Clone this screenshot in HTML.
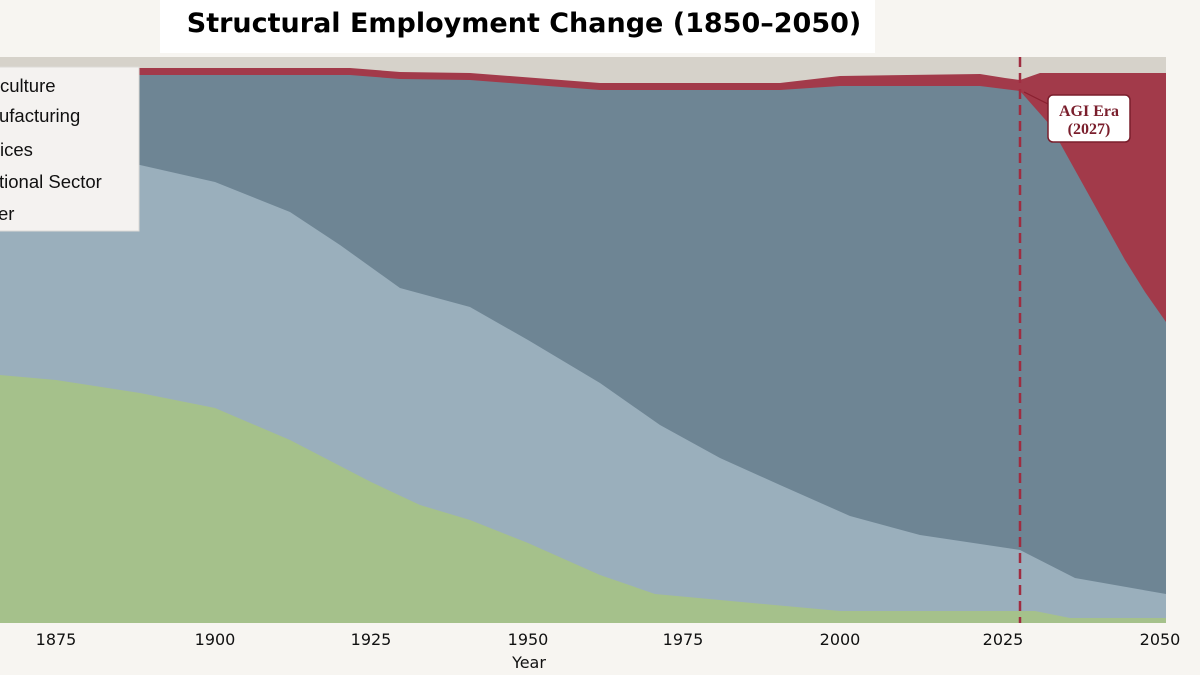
<!DOCTYPE html>
<html><head><meta charset="utf-8"><style>
html,body{margin:0;padding:0;background:#f7f5f1;}
svg{display:block;font-family:"DejaVu Sans","Liberation Sans",sans-serif;}
</style></head><body>
<svg width="1200" height="675" viewBox="0 0 1200 675" xmlns="http://www.w3.org/2000/svg">
<rect width="1200" height="675" fill="#f7f5f1"/>
<rect x="0" y="57" width="1166" height="566" fill="#d6d2ca"/>
<polygon fill="#a23a4a" points="0,68 350,68 400,72 470,73 600,83 780,83 840,76 980,74 1005,78 1020,80 1040,73 1166,73 1166,623 0,623"/>
<polygon fill="#6e8594" points="0,75 350,75 400,79 470,80 600,90 780,90 840,86 980,86 1020,91 1050,125 1075,170 1100,215 1125,260 1145,292 1166,322 1166,623 0,623"/>
<polygon fill="#9aafbc" points="0,140 140,165 215,182 290,212 340,245 400,288 470,307 528,340 600,383 660,425 720,458 780,485 850,516 920,535 1020,550 1075,578 1166,594 1166,623 0,623"/>
<polygon fill="#a5c18b" points="0,375 56,380 140,393 215,408 290,440 371,482 420,505 470,520 528,543 600,575 655,594 720,600 840,611 1000,611 1035,611 1070,618 1166,618 1166,623 0,623"/>
<line x1="1020" y1="57" x2="1020" y2="623" stroke="#a02c40" stroke-width="2.5" stroke-dasharray="10,6"/>
<line x1="1024" y1="92" x2="1050" y2="105" stroke="#8a2030" stroke-width="1.2"/>
<rect x="1048" y="95" width="82" height="47" rx="5" fill="#ffffff" stroke="#7a1e2c" stroke-width="1.5"/>
<text x="1089" y="116" font-family="Liberation Serif,serif" font-size="16" font-weight="bold" fill="#7a1e2c" text-anchor="middle">AGI Era</text>
<text x="1089" y="134" font-family="Liberation Serif,serif" font-size="16" font-weight="bold" fill="#7a1e2c" text-anchor="middle">(2027)</text>
<rect x="-2" y="67" width="141" height="164" fill="#f4f2f0" stroke="#dcdad6"/>
<g font-family="Liberation Sans,sans-serif" font-size="18.5" fill="#111">
<text x="0" y="92">culture</text>
<text x="-1" y="122">ufacturing</text>
<text x="0" y="156">ices</text>
<text x="-1" y="188">tional Sector</text>
<text x="-2" y="220">er</text>
</g>
<rect x="160" y="0" width="715" height="53" fill="#ffffff"/>
<text x="524" y="32" font-size="27" font-weight="bold" text-anchor="middle" fill="#000">Structural Employment Change (1850–2050)</text>
<rect x="1166" y="57" width="34" height="618" fill="#f7f5f1"/>
<g font-size="16" fill="#111" text-anchor="middle">
<text x="56" y="645">1875</text>
<text x="215" y="645">1900</text>
<text x="371" y="645">1925</text>
<text x="528" y="645">1950</text>
<text x="683" y="645">1975</text>
<text x="840" y="645">2000</text>
<text x="1003" y="645">2025</text>
<text x="1160" y="645">2050</text>
<text x="529" y="668">Year</text>
</g>
</svg>
</body></html>
